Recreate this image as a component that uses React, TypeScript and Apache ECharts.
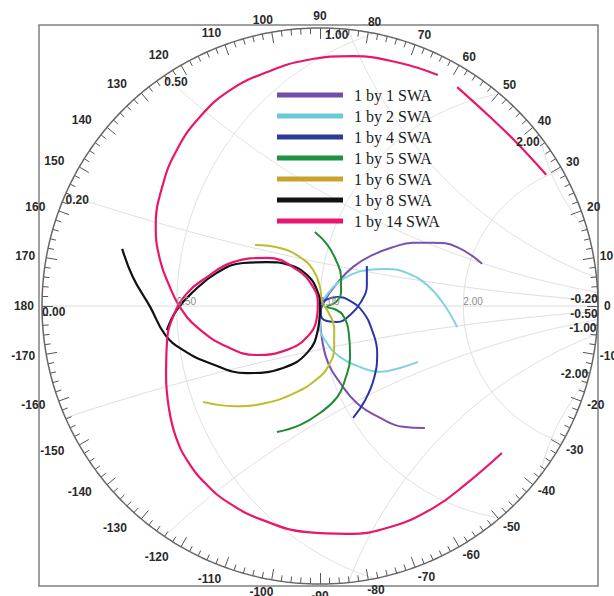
import React, { useEffect, useRef } from "react";
import * as echarts from "echarts";

// ring radius in reflection-coefficient units (zoomed Smith chart)
const RHO = 278 / 430;

const seriesNames = ["1 by 1 SWA", "1 by 2 SWA", "1 by 4 SWA", "1 by 5 SWA", "1 by 6 SWA", "1 by 8 SWA", "1 by 14 SWA"];
const lineColors = ["#7a50b0", "#7fd3df", "#2b36a6", "#1f8c32", "#bcbc2e", "#111111", "#e8176d"];
const legendColors = ["#6f4fa9", "#69c9d6", "#2a3b98", "#1f9142", "#c9a22b", "#111111", "#e8176d"];

// reflection coefficient traces [Re, Im]
const swa1 = [[0.377,0.098],[0.319,0.137],[0.263,0.147],[0.216,0.147],[0.170,0.137],[0.123,0.119],[0.077,0.091],[0.040,0.053],[0.012,0.014],[0.000,-0.026],[0.005,-0.079],[0.019,-0.133],[0.047,-0.179],[0.086,-0.226],[0.140,-0.260],[0.193,-0.281],[0.244,-0.284]];
const swa2 = [[0.319,-0.049],[0.286,0.007],[0.249,0.049],[0.202,0.077],[0.156,0.086],[0.109,0.084],[0.070,0.072],[0.040,0.053],[0.016,0.026],[0.000,-0.002],[0.000,-0.049],[0.016,-0.086],[0.047,-0.119],[0.093,-0.142],[0.140,-0.153],[0.186,-0.144],[0.228,-0.130]];
const swa4 = [[0.109,0.093],[0.109,0.049],[0.095,0.009],[0.070,-0.021],[0.040,-0.037],[0.016,-0.035],[0.002,-0.019],[0.002,0.000],[0.014,0.014],[0.040,0.021],[0.070,0.012],[0.100,-0.014],[0.121,-0.056],[0.133,-0.109],[0.126,-0.167],[0.105,-0.219],[0.077,-0.260]];
const swa5 = [[-0.012,0.172],[0.016,0.144],[0.037,0.107],[0.049,0.067],[0.049,0.033],[0.037,0.009],[0.016,-0.002],[0.033,-0.007],[0.053,-0.021],[0.067,-0.063],[0.070,-0.119],[0.058,-0.172],[0.040,-0.212],[0.000,-0.249],[-0.047,-0.277],[-0.100,-0.293]];
const swa6 = [[-0.151,0.142],[-0.093,0.135],[-0.047,0.114],[-0.016,0.084],[0.000,0.044],[0.005,0.009],[0.019,-0.014],[0.033,-0.051],[0.033,-0.095],[0.021,-0.137],[-0.007,-0.170],[-0.058,-0.202],[-0.128,-0.226],[-0.198,-0.233],[-0.272,-0.223]];
const swa8 = [[-0.460,0.133],[-0.435,0.067],[-0.395,-0.002],[-0.360,-0.067],[-0.319,-0.102],[-0.256,-0.133],[-0.170,-0.156],[-0.086,-0.144],[-0.030,-0.109],[-0.005,-0.056],[0.000,-0.002],[-0.007,0.037],[-0.030,0.072],[-0.070,0.095],[-0.123,0.102],[-0.179,0.100],[-0.240,0.077],[-0.295,0.033],[-0.333,-0.009],[-0.356,-0.056]];
const swa14 = [[0.526,0.305],[0.458,0.379],[0.395,0.440],[0.319,0.509],null,[0.274,0.537],[0.186,0.565],[0.077,0.581],[-0.030,0.572],[-0.123,0.544],[-0.209,0.502],[-0.279,0.440],[-0.333,0.363],[-0.367,0.277],[-0.382,0.184],[-0.372,0.107],[-0.349,0.044],[-0.326,-0.002],[-0.286,-0.049],[-0.216,-0.095],[-0.147,-0.114],[-0.077,-0.102],[-0.030,-0.072],[-0.007,-0.026],[-0.005,0.007],[-0.016,0.044],[-0.053,0.084],[-0.123,0.112],[-0.202,0.102],[-0.263,0.067],[-0.309,0.030],[-0.342,-0.026],[-0.356,-0.086],[-0.358,-0.163],[-0.351,-0.240],[-0.335,-0.305],[-0.307,-0.362],[-0.265,-0.414],[-0.212,-0.458],[-0.133,-0.498],[-0.030,-0.526],[0.063,-0.530],[0.163,-0.514],[0.263,-0.470],[0.342,-0.412],[0.423,-0.342]];
const traces = [swa1, swa2, swa4, swa5, swa6, swa8, swa14];

// grid values
const resistanceCircles = [0.5, 1, 2];
const resistanceLabels = ["0.50", "1.00", "2.00"];
const reactanceArcs = [0.2, 0.5, 1, 2, -0.2, -0.5, -1, -2];
const reactanceLabels = ["0.20", "0.50", "1.00", "2.00", "-0.20", "-0.50", "-1.00", "-2.00"];
const angleLabels = [0, 10, 20, 30, 40, 50, 60, 70, 80, 90, 100, 110, 120, 130, 140, 150, 160, 170, 180, -10, -20, -30, -40, -50, -60, -70, -80, -90, -100, -110, -120, -130, -140, -150, -160, -170];

const PX = 430; // pixels per unit of reflection coefficient

function clippedCircle(cx: number, cy: number, rad: number) {
  const N = 20000;
  const segs: number[][][] = [];
  let cur: number[][] | null = null;
  for (let i = 0; i <= N; i++) {
    const t = (2 * Math.PI * i) / N;
    const x = cx + rad * Math.cos(t);
    const y = cy + rad * Math.sin(t);
    if (x * x + y * y <= RHO * RHO) {
      if (!cur) cur = [];
      cur.push([x, y]);
    } else if (cur) {
      segs.push(cur);
      cur = null;
    }
  }
  if (cur) segs.push(cur);
  return segs;
}

function arcRingPoint(xv: number) {
  const k = 1 / xv;
  const m = (RHO * RHO + 1) / 2;
  const disc = m * m * k * k - (1 + k * k) * (m * m - RHO * RHO);
  const b = (m * k + Math.sqrt(disc)) / (1 + k * k);
  const a = m - k * b;
  return [a, b];
}

export default function App() {
  const ref = useRef<HTMLDivElement>(null);
  useEffect(() => {
    if (!ref.current) return;
    const chart = echarts.init(ref.current, undefined, { renderer: "svg" });

    const gridSeries: any[] = [];
    const gridStyle = { color: "#dcdcdc", width: 1 };
    const addSegs = (segs: number[][][]) =>
      segs.forEach((s) =>
        gridSeries.push({ type: "line", data: s, showSymbol: false, silent: true, lineStyle: gridStyle, z: 1 })
      );
    resistanceCircles.forEach((r) => addSegs(clippedCircle(r / (1 + r), 0, 1 / (1 + r))));
    reactanceArcs.forEach((xv) => addSegs(clippedCircle(1, 1 / xv, 1 / Math.abs(xv))));
    gridSeries.push({ type: "line", data: [[-RHO, 0], [RHO, 0]], showSymbol: false, silent: true, lineStyle: gridStyle, z: 1 });

    const ring: number[][] = [];
    for (let i = 0; i <= 720; i++) {
      const t = (Math.PI * i) / 360;
      ring.push([RHO * Math.cos(t), RHO * Math.sin(t)]);
    }

    const ticks: any[] = [];
    for (let a = -178; a <= 180; a += 2) {
      const len = a % 10 === 0 ? 11 : a % 5 === 0 ? 8 : 6;
      const t = (a * Math.PI) / 180;
      const r2 = RHO - len / PX;
      ticks.push({ coords: [[RHO * Math.cos(t), RHO * Math.sin(t)], [r2 * Math.cos(t), r2 * Math.sin(t)]] });
    }

    type T = { x: number; y: number; text: string; align: string; va: string; color: string; font: string };
    const texts: T[] = [];
    const boldFont = "bold 12px 'Liberation Sans', Arial, sans-serif";
    angleLabels.forEach((a) => {
      const t = (a * Math.PI) / 180;
      const s = String(a);
      const w = (s.replace("-", "").length) * 6.7 + (s.startsWith("-") ? 4 : 0);
      const c = Math.cos(t);
      const sn = Math.sin(t);
      const f = Math.min(1, Math.abs(c) * 4);
      const rr = c > 0 ? 285 - 2 * f : 285;
      const extra = c < -0.4 ? 9 * Math.abs(Math.sin(2 * t)) : 0;
      const ax = rr * c + Math.sign(c) * (f * (w / 2 + 1) + extra);
      const ay = rr * sn + sn * 5;
      texts.push({ x: ax / PX, y: ay / PX, text: s, align: "center", va: "middle", color: "#2a2a2a", font: boldFont });
    });
    reactanceArcs.forEach((xv, i) => {
      const p = arcRingPoint(xv);
      const align = xv < 0 || xv >= 1 ? "right" : "left";
      const va = xv < 0 ? "bottom" : "top";
      const dy = xv === -0.2 ? 6 / PX : 0;
      texts.push({ x: p[0], y: p[1] + dy, text: reactanceLabels[i], align, va, color: "#2a2a2a", font: boldFont });
    });
    texts.push({ x: -RHO, y: 0, text: "0.00", align: "left", va: "top", color: "#2a2a2a", font: boldFont });
    resistanceCircles.forEach((r, i) => {
      texts.push({ x: (r - 1) / (r + 1), y: 0, text: resistanceLabels[i], align: "left", va: "bottom", color: "#8a8a8a", font: "10px 'Liberation Sans', Arial, sans-serif" });
    });

    const dataSeries: any[] = [];
    traces.forEach((tr, i) => {
      const parts: number[][][] = [[]];
      tr.forEach((p) => {
        if (p === null) parts.push([]);
        else parts[parts.length - 1].push(p as number[]);
      });
      parts.forEach((part) =>
        dataSeries.push({
          type: "line",
          name: seriesNames[i],
          data: part,
          smooth: 0.45,
          showSymbol: false,
          symbol: "none",
          lineStyle: { color: lineColors[i], width: i >= 5 ? 2.2 : 2 },
          itemStyle: { color: lineColors[i] },
          z: 3,
        })
      );
    });

    chart.setOption({
      animation: false,
      backgroundColor: "#ffffff",
      grid: { left: 27.6, right: 10.2, top: 13.6, bottom: 6.2, containLabel: false },
      xAxis: { type: "value", min: -0.68, max: 0.66, show: false },
      yAxis: { type: "value", min: -0.66, max: 0.68, show: false },
      legend: {
        data: seriesNames.map((n, i) => ({ name: n, itemStyle: { color: legendColors[i] } })),
        orient: "vertical",
        left: 277,
        top: 86,
        itemWidth: 66,
        itemHeight: 5,
        itemGap: 3,
        icon: "rect",
        padding: 0,
        selectedMode: false,
        textStyle: { fontFamily: "'Liberation Serif', serif", fontSize: 16, color: "#1a1a1a", lineHeight: 18, padding: [0, 0, 0, 6] },
      },
      graphic: [
        { type: "rect", shape: { x: 39, y: 25, width: 559, height: 561 }, style: { fill: "none", stroke: "#808080", lineWidth: 1.5 }, z: 0, silent: true },
      ],
      series: [
        ...gridSeries,
        { type: "line", data: ring, showSymbol: false, silent: true, lineStyle: { color: "#666666", width: 1.5 }, z: 2 },
        { type: "lines", coordinateSystem: "cartesian2d", data: ticks, silent: true, lineStyle: { color: "#555555", width: 1, opacity: 1 }, z: 2 },
        ...dataSeries,
        {
          type: "custom",
          coordinateSystem: "cartesian2d",
          silent: true,
          z: 5,
          encode: { x: 0, y: 1 },
          data: texts.map((t) => [t.x, t.y]),
          renderItem: (params: any, api: any) => {
            const t = texts[params.dataIndex];
            const p = api.coord([t.x, t.y]);
            return {
              type: "text",
              x: p[0],
              y: p[1],
              style: { text: t.text, align: t.align, verticalAlign: t.va, fill: t.color, font: t.font },
            };
          },
        },
      ],
    });
    return () => chart.dispose();
  }, []);
  return <div ref={ref} style={{ position: "fixed", left: 0, top: 0, width: 614, height: 596, background: "#fff" }} />;
}
